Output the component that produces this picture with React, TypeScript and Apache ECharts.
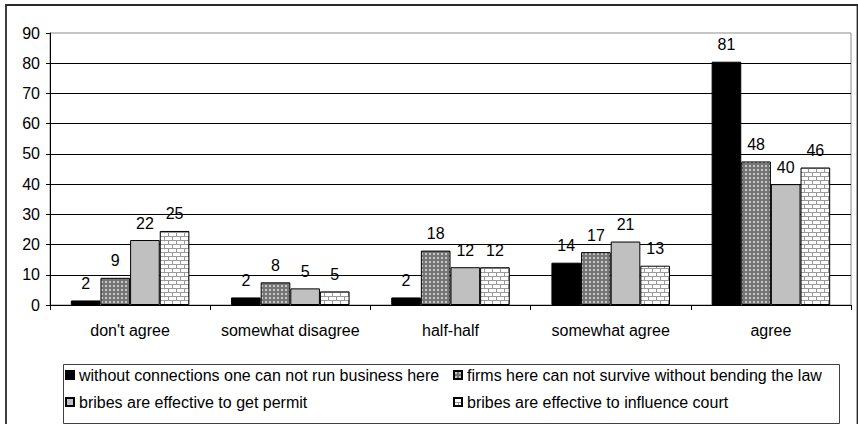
import React, { useEffect, useRef } from "react";
import * as echarts from "echarts";

const categories = ["don't agree", "somewhat disagree", "half-half", "somewhat agree", "agree"];
const seriesNames = [
  "without connections one can not run business here",
  "firms here can not survive without bending the law",
  "bribes are effective to get permit",
  "bribes are effective to influence court",
];
// bar heights
const noConnections = [1.5, 2.5, 2.5, 14, 80.5];
const bendingLaw = [9, 7.5, 18, 17.5, 47.5];
const getPermit = [21.5, 5.5, 12.5, 21, 40];
const influenceCourt = [24.5, 4.5, 12.5, 13, 45.5];
// printed data labels
const noConnectionsLabels = [2, 2, 2, 14, 81];
const bendingLawLabels = [9, 8, 18, 17, 48];
const getPermitLabels = [22, 5, 12, 21, 40];
const influenceCourtLabels = [25, 5, 12, 13, 46];
const yTicks = { min: 0, max: 90, interval: 10 };

const FONT = "'Liberation Sans', Arial, sans-serif";

function dotPattern() {
  const c = document.createElement("canvas");
  c.width = 4;
  c.height = 4;
  const ctx = c.getContext("2d")!;
  ctx.fillStyle = "#767676";
  ctx.fillRect(0, 0, 4, 4);
  ctx.fillStyle = "#c4c4c4";
  ctx.fillRect(1, 1, 2, 2);
  return { image: c, repeat: "repeat", imageWidth: 4, imageHeight: 4 };
}

function brickPattern() {
  const c = document.createElement("canvas");
  c.width = 8;
  c.height = 8;
  const ctx = c.getContext("2d")!;
  ctx.fillStyle = "#ffffff";
  ctx.fillRect(0, 0, 8, 8);
  ctx.fillStyle = "#9a9a9a";
  ctx.fillRect(0, 0, 8, 1);
  ctx.fillRect(0, 4, 8, 1);
  ctx.fillRect(0, 0, 1, 4);
  ctx.fillRect(4, 4, 1, 4);
  return { image: c, repeat: "repeat", imageWidth: 8, imageHeight: 8 };
}

export default function App() {
  const ref = useRef<HTMLDivElement>(null);
  useEffect(() => {
    if (!ref.current) return;
    const chart = echarts.init(ref.current, null, { renderer: "svg" });
    const colors: any[] = ["#000000", dotPattern(), "#c0c0c0", brickPattern()];
    const values = [noConnections, bendingLaw, getPermit, influenceCourt];
    const labels = [noConnectionsLabels, bendingLawLabels, getPermitLabels, influenceCourtLabels];
    const legendPos = [
      { left: 65, top: 367 },
      { left: 453, top: 367 },
      { left: 65, top: 394 },
      { left: 453, top: 394 },
    ];
    chart.setOption({
      animation: false,
      backgroundColor: "#ffffff",
      textStyle: { fontFamily: FONT, color: "#000" },
      grid: {
        left: 50,
        top: 33,
        right: 7,
        bottom: 119,
        show: true,
        borderColor: "#8c8c8c",
        borderWidth: 1,
        backgroundColor: "transparent",
      },
      legend: seriesNames.map((n, i) => ({
        data: [n],
        ...legendPos[i],
        orient: "horizontal",
        padding: 0,
        itemWidth: 8,
        itemHeight: 8,
        icon: "rect",
        selectedMode: false,
        textStyle: { fontSize: 16, fontFamily: FONT, color: "#000" },
      })),
      xAxis: {
        type: "category",
        data: categories,
        axisLine: { lineStyle: { color: "#000", width: 1 } },
        axisTick: { show: true, length: 5, lineStyle: { color: "#000" } },
        axisLabel: { interval: 0, fontSize: 16, fontFamily: FONT, color: "#000", margin: 17 },
      },
      yAxis: {
        type: "value",
        min: yTicks.min,
        max: yTicks.max,
        interval: yTicks.interval,
        axisLine: { show: true, lineStyle: { color: "#000", width: 1 } },
        axisTick: { show: true, length: 4, lineStyle: { color: "#000" } },
        axisLabel: { fontSize: 16, fontFamily: FONT, color: "#000", margin: 10 },
        splitLine: { show: true, showMaxLine: false, lineStyle: { color: "#000", width: 1 } },
      },
      series: seriesNames.map((n, i) => ({
        name: n,
        type: "bar",
        data: values[i],
        barGap: "0%",
        barCategoryGap: "26%",
        itemStyle: { color: colors[i], borderColor: "#000", borderWidth: 1 },
        label: {
          show: true,
          position: "top",
          distance: 9,
          fontSize: 16,
          fontFamily: FONT,
          color: "#000",
          formatter: (p: any) => String(labels[i][p.dataIndex]),
        },
      })),
      graphic: [
        {
          type: "rect",
          left: 61,
          top: 362,
          shape: { x: 0, y: 0, width: 776, height: 59 },
          style: { fill: "none", stroke: "#404040", lineWidth: 1 },
          silent: true,
        },
        {
          type: "rect",
          shape: { x: 6, y: 5, width: 851.5, height: 440 },
          style: { fill: "none", stroke: "#2a2a2a", lineWidth: 1.8 },
          silent: true,
        },
      ],
    });
    return () => chart.dispose();
  }, []);
  return (
    <div
      ref={ref}
      style={{ position: "fixed", left: 0, top: 0, width: 858, height: 424, background: "#fff" }}
    />
  );
}
